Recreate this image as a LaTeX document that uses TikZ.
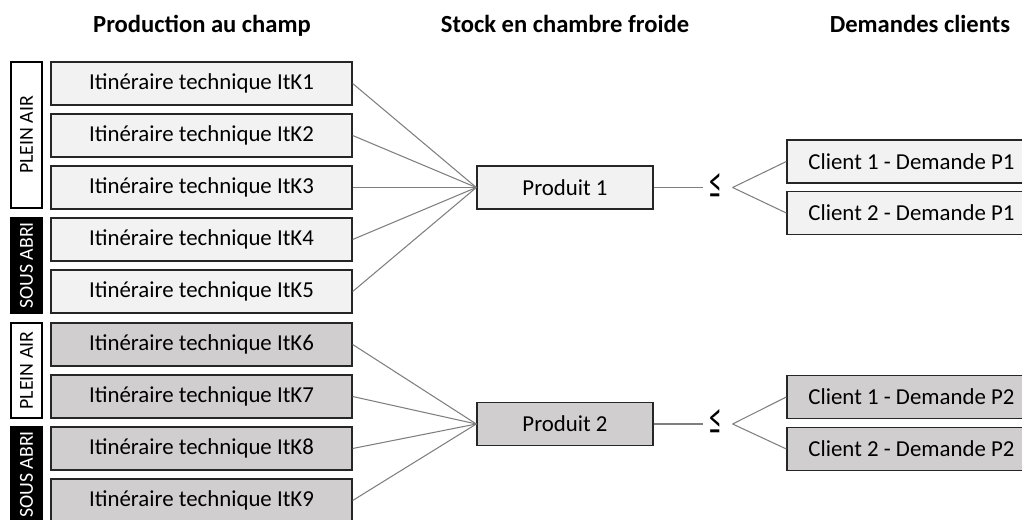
\documentclass[tikz,border=0pt]{standalone}
\usepackage{fontspec}
\setmainfont{Carlito}
\usepackage{graphicx}
\usepackage{xcolor}
\definecolor{fondclair}{HTML}{F2F2F2}
\definecolor{fondfonce}{HTML}{D0CECE}
\definecolor{bord}{HTML}{262626}
\definecolor{trait}{HTML}{7F7F7F}

\begin{document}
\begin{tikzpicture}[
        x=0.02cm, y=-0.02cm,
        itk/.style={rectangle,draw=bord,line width=0.8pt,fill=fondclair,minimum width=6.02cm,minimum height=0.86cm,inner sep=0pt,font=\fontsize{13}{15}\selectfont},
        itkfonce/.style={itk,fill=fondfonce},
        produit/.style={itk,minimum width=3.52cm},
        produitfonce/.style={produit,fill=fondfonce},
        client/.style={itk,minimum width=4.98cm},
        clientfonce/.style={client,fill=fondfonce},
        pleinair/.style={rectangle,draw=black,line width=0.8pt,fill=white,rotate=90,minimum height=0.62cm,inner sep=0pt,font=\fontsize{11.3}{13}\selectfont},
        sousabri/.style={pleinair,fill=black,text=white},
        titre/.style={anchor=base,font=\fontsize{14}{16}\selectfont\bfseries},
        inegal/.style={inner sep=0pt},
        link/.style={draw=trait,line width=0.6pt},
        ]

        \useasboundingbox (0,0) rectangle (1022,520);

        % Titres des colonnes
        \node[titre] (tchamp) at (202,33) {Production au champ};
        \node[titre] (tstock) at (565,33) {Stock en chambre froide};
        \node[titre] (tclients) at (920,33) {Demandes clients};

        % Modes de culture
        \node[pleinair,minimum width=2.92cm] (air1) at (26.5,135) {PLEIN AIR};
        \node[sousabri,minimum width=1.9cm] (abri1) at (26.5,265.5) {SOUS ABRI};
        \node[pleinair,minimum width=1.9cm] (air2) at (26.5,370.5) {PLEIN AIR};
        \node[sousabri,minimum width=1.9cm] (abri2) at (26.5,474.5) {SOUS ABRI};

        % Itineraires techniques
        \node[itk] (itk1) at (201.5,83.5) {Itinéraire technique ItK1};
        \node[itk] (itk2) at (201.5,135.5) {Itinéraire technique ItK2};
        \node[itk] (itk3) at (201.5,187.5) {Itinéraire technique ItK3};
        \node[itk] (itk4) at (201.5,239.5) {Itinéraire technique ItK4};
        \node[itk] (itk5) at (201.5,291.5) {Itinéraire technique ItK5};
        \node[itkfonce] (itk6) at (201.5,344.5) {Itinéraire technique ItK6};
        \node[itkfonce] (itk7) at (201.5,396.5) {Itinéraire technique ItK7};
        \node[itkfonce] (itk8) at (201.5,448.5) {Itinéraire technique ItK8};
        \node[itkfonce] (itk9) at (201.5,500.5) {Itinéraire technique ItK9};

        % Produits en stock
        \node[produit] (p1) at (565,187.5) {Produit 1};
        \node[produitfonce] (p2) at (565,424) {Produit 2};

        % Contraintes
        \node[inegal] (le1) at (716,186) {\resizebox{0.25cm}{0.5cm}{≤}};
        \node[inegal] (le2) at (716,422.5) {\resizebox{0.25cm}{0.5cm}{≤}};

        % Demandes clients
        \node[client] (c11) at (911.5,161.5) {Client 1 - Demande P1};
        \node[client] (c21) at (911.5,213) {Client 2 - Demande P1};
        \node[clientfonce] (c12) at (911.5,397) {Client 1 - Demande P2};
        \node[clientfonce] (c22) at (911.5,449) {Client 2 - Demande P2};

        % Connexions itineraires - produit 1
        \draw[link] (itk1.east) -- (p1.west);
        \draw[link] (itk2.east) -- (p1.west);
        \draw[link] (itk3.east) -- (p1.west);
        \draw[link] (itk4.east) -- (p1.west);
        \draw[link] (itk5.east) -- (p1.west);

        % Connexions itineraires - produit 2
        \draw[link] (itk6.east) -- (p2.west);
        \draw[link] (itk7.east) -- (p2.west);
        \draw[link] (itk8.east) -- (p2.west);
        \draw[link] (itk9.east) -- (p2.west);

        % Produits - demandes
        \draw[link] (p1.east) -- ([xshift=-0.12cm]le1.west |- p1.east);
        \draw[link] ([xshift=0.2cm]le1.east |- p1.east) -- (c11.west);
        \draw[link] ([xshift=0.2cm]le1.east |- p1.east) -- (c21.west);
        \draw[link] (p2.east) -- ([xshift=-0.12cm]le2.west |- p2.east);
        \draw[link] ([xshift=0.2cm]le2.east |- p2.east) -- (c12.west);
        \draw[link] ([xshift=0.2cm]le2.east |- p2.east) -- (c22.west);
    \end{tikzpicture}
\end{document}
